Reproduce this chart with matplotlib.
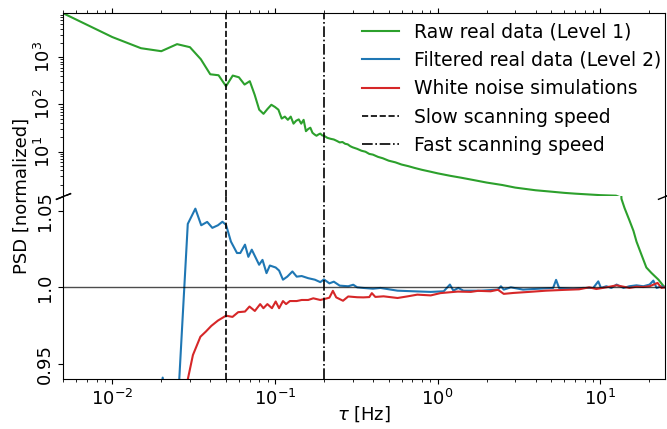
import numpy as np
import matplotlib
matplotlib.use("Agg")
from matplotlib import pyplot as plt

plt.rcParams['font.size'] = 13

# raw level 1 spectrum
f_raw = [0.005, 0.01, 0.015, 0.02, 0.025, 0.03, 0.035, 0.04, 0.045, 0.05,
         0.055, 0.06, 0.065, 0.07, 0.075, 0.08, 0.085, 0.09, 0.095, 0.1,
         0.105, 0.11, 0.115, 0.12, 0.125, 0.13, 0.135, 0.14, 0.145, 0.15,
         0.155, 0.16, 0.165, 0.17, 0.175, 0.18, 0.185, 0.19, 0.195, 0.2,
         0.21, 0.22, 0.23, 0.24, 0.25, 0.26, 0.27, 0.28, 0.29, 0.30,
         0.32, 0.34, 0.36, 0.38, 0.40, 0.43, 0.46, 0.50, 0.55, 0.60,
         0.66, 0.72, 0.80, 0.90, 1.0, 1.2, 1.4, 1.7, 2.0, 2.5,
         3.0, 4.0, 5.0, 6.0, 7.0, 8.5, 10.0, 11.5, 12.5, 13.0,
         13.5, 14.1, 15.1, 16.0, 16.7, 17.9, 19.2, 20.6, 22.8, 24.5, 25.0]
psd_raw = [8500, 2670, 1550, 1340, 1890, 1630, 906, 434, 414, 242,
           408, 375, 263, 310, 160, 77, 63, 80, 98, 88,
           77, 50, 55, 47, 55, 39, 45, 48, 39, 47,
           27, 30, 32, 25, 23, 21.6, 23, 24, 22, 21.6,
           19.5, 18.6, 18.0, 16.8, 15.6, 15.9, 14.6, 14.2, 13.0, 12.3,
           11.4, 10.4, 9.9, 8.9, 8.6, 7.7, 7.2, 6.4, 5.9, 5.3,
           4.9, 4.5, 4.1, 3.75, 3.45, 3.05, 2.78, 2.45, 2.2, 1.95,
           1.72, 1.51, 1.41, 1.33, 1.28, 1.23, 1.19, 1.17, 1.16, 1.10,
           1.058, 1.052, 1.044, 1.037, 1.030, 1.0215, 1.013, 1.0095, 1.005, 1.0008, 1.0003]

# filtered level 2 spectrum
f_filt = [0.005, 0.01, 0.015, 0.0176, 0.0204, 0.023, 0.0255, 0.0291, 0.0324, 0.0352,
          0.0383, 0.0412, 0.0446, 0.0475, 0.050, 0.0536, 0.0584, 0.0612, 0.0654, 0.0686,
          0.072, 0.0799, 0.0838, 0.0887, 0.093, 0.101, 0.106, 0.112, 0.119, 0.128,
          0.136, 0.146, 0.160, 0.176, 0.190, 0.200, 0.216, 0.230, 0.250, 0.282,
          0.303, 0.320, 0.349, 0.40, 0.445, 0.567, 0.71, 0.907, 1.09, 1.19,
          1.25, 1.34, 1.44, 1.85, 2.35, 2.45, 2.55, 2.82, 3.35, 4.2,
          5.13, 5.35, 5.58, 6.81, 7.85, 9.05, 9.72, 10.1, 10.9, 11.7,
          12.6, 13.9, 15.1, 16.7, 18.4, 20.1, 21.2, 22.2, 23.8, 25.0]
psd_filt = [0.30, 0.55, 0.80, 0.90, 0.9408, 0.90, 0.93, 1.0416, 1.0516, 1.0407,
            1.0429, 1.039, 1.0407, 1.043, 1.041, 1.030, 1.0225, 1.0225, 1.028, 1.020,
            1.0247, 1.0148, 1.018, 1.0093, 1.0143, 1.013, 1.011, 1.005, 1.007, 1.0104,
            1.007, 1.0074, 1.006, 1.005, 1.0034, 1.0052, 1.0026, 1.0037, 1.0011, 1.0007,
            1.0017, 1.0, 0.9996, 0.9991, 0.9996, 0.9978, 0.9974, 0.997, 0.9974, 1.0018,
            0.9978, 0.9996, 0.9978, 0.9978, 0.9985, 1.0007, 0.9985, 1.0, 0.9985, 0.9991,
            0.9996, 1.0049, 0.9996, 0.9991, 0.9996, 0.9996, 1.0039, 0.9996, 1.0007, 0.9996,
            1.0018, 0.9996, 1.0007, 1.0013, 1.0007, 1.0018, 1.0044, 0.9996, 1.0007, 1.0]

# white noise simulations
f_sim = [0.005, 0.01, 0.015, 0.02, 0.025, 0.0285, 0.0313, 0.0348, 0.0376, 0.0406,
         0.0446, 0.05, 0.0548, 0.0594, 0.0654, 0.0697, 0.0752, 0.0811, 0.0849, 0.0898,
         0.0958, 0.101, 0.106, 0.112, 0.117, 0.1235, 0.136, 0.146, 0.16, 0.172,
         0.19, 0.209, 0.216, 0.227, 0.238, 0.262, 0.282, 0.32, 0.349, 0.38,
         0.394, 0.414, 0.465, 0.567, 0.656, 0.75, 0.907, 1.04, 1.2, 1.33,
         1.6, 1.77, 2.12, 2.35, 2.55, 2.91, 3.65, 4.64, 5.91, 7.41,
         8.55, 9.45, 10.9, 12.6, 13.9, 15.1, 16.7, 18.4, 20.1, 22.5,
         23.8, 25.0]
psd_sim = [0.50, 0.70, 0.80, 0.86, 0.91, 0.935, 0.9556, 0.9676, 0.971, 0.9747,
           0.9782, 0.9814, 0.9806, 0.9837, 0.9841, 0.9874, 0.9845, 0.989, 0.9863, 0.989,
           0.9863, 0.9907, 0.9863, 0.991, 0.989, 0.991, 0.991, 0.9917, 0.9917, 0.9928,
           0.9917, 0.9928, 0.9932, 0.9977, 0.9934, 0.9912, 0.994, 0.9935, 0.9934, 0.9936,
           0.9962, 0.9937, 0.9941, 0.993, 0.9941, 0.9952, 0.9947, 0.9962, 0.9968, 0.9972,
           0.997, 0.9977, 0.9974, 0.9984, 0.9957, 0.9963, 0.997, 0.9978, 0.9983, 0.9987,
           1.0, 0.9989, 1.0, 1.0013, 1.0004, 0.9996, 1.0004, 1.0002, 1.0007, 1.0029,
           0.9996, 1.0]

f_slow = 0.05
f_fast = 0.2

fig, (ax1, ax2) = plt.subplots(2, 1, sharex=True, figsize=(6.67, 4.29), dpi=100)
fig.subplots_adjust(left=0.095, right=0.997, bottom=0.117, top=0.97, hspace=0)

for ax in (ax1, ax2):
    ax.plot(f_raw, psd_raw, color='tab:green', lw=1.5, label='Raw real data (Level 1)')
    ax.plot(f_filt, psd_filt, color='tab:blue', lw=1.5, label='Filtered real data (Level 2)')
    ax.plot(f_sim, psd_sim, color='tab:red', lw=1.5, label='White noise simulations')
    ax.axvline(f_slow, color='k', ls='--', lw=1.2, label='Slow scanning speed')
    ax.axvline(f_fast, color='k', ls='-.', lw=1.2, label='Fast scanning speed')

ax2.axhline(1.0, color='k', lw=1, alpha=0.7)

ax1.set_yscale('log')
ax1.set_xscale('log')
ax1.set_xlim(0.005, 25)
ax1.set_ylim(1.15, 8700)
ax2.set_ylim(0.94, 1.06)
ax2.set_yticks([0.95, 1.0, 1.05])
ax2.set_yticklabels(['0.95', '1.0', '1.05'])

# broken axis
ax1.spines['bottom'].set_visible(False)
ax2.spines['top'].set_visible(False)
ax1.xaxis.tick_top()
ax1.tick_params(labeltop=False)
ax1.tick_params(axis='x', which='both', top=True)
ax2.xaxis.tick_bottom()

d = 0.4
kw = dict(marker=[(-1, -d), (1, d)], markersize=11, linestyle='none',
          color='k', mec='k', mew=1, clip_on=False)
ax1.plot([0, 1], [0, 0], transform=ax1.transAxes, **kw)
ax2.plot([0, 1], [1, 1], transform=ax2.transAxes, **kw)

for ax in (ax1, ax2):
    plt.setp(ax.get_yticklabels(), rotation=90, va='center')

ax2.set_xlabel(r'$\tau$ [Hz]', labelpad=-3)
ax2.set_ylabel('PSD [normalized]')
ax2.yaxis.set_label_coords(-0.054, 1.0)

ax1.legend(loc='upper right', frameon=False, fontsize=13.5,
           bbox_to_anchor=(1.022, 1.04))

plt.savefig('out.png', dpi=100)
